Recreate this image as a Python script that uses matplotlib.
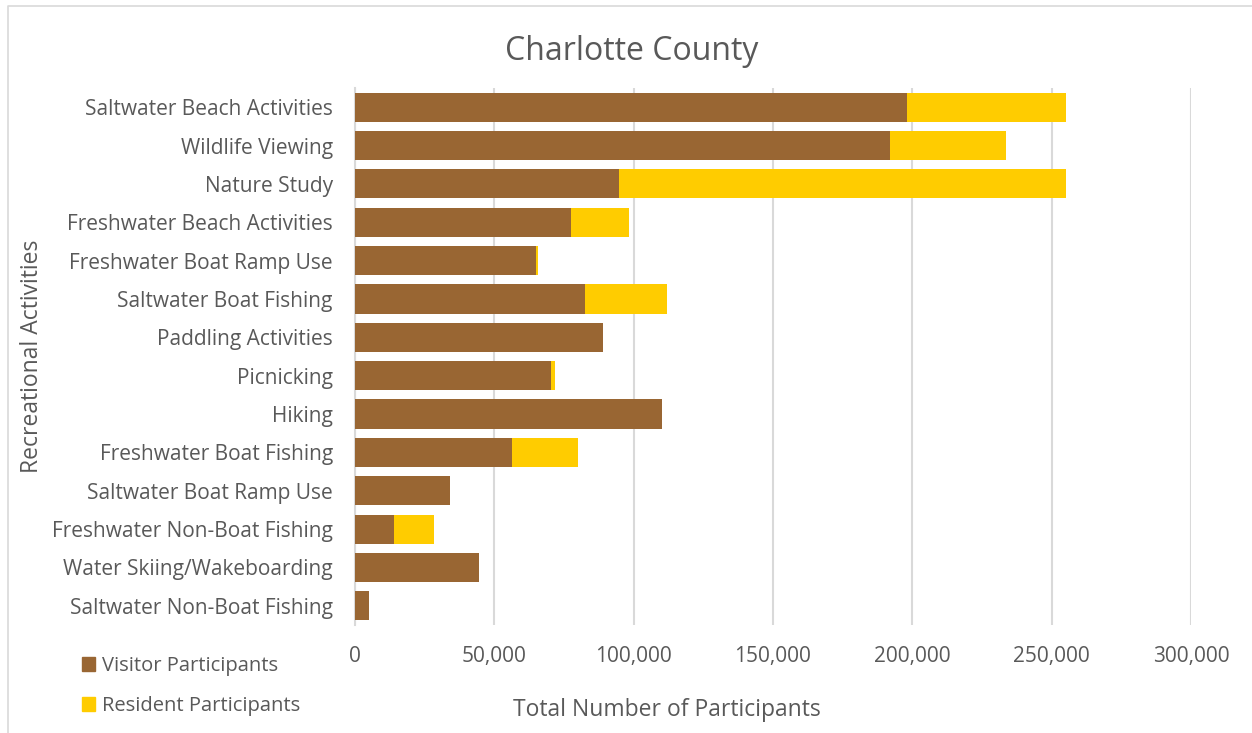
import matplotlib.pyplot as plt
from matplotlib.ticker import FuncFormatter
from matplotlib.patches import Patch
from matplotlib.lines import Line2D

activities = [
    'Saltwater Beach Activities', 'Wildlife Viewing', 'Nature Study',
    'Freshwater Beach Activities', 'Freshwater Boat Ramp Use',
    'Saltwater Boat Fishing', 'Paddling Activities', 'Picnicking', 'Hiking',
    'Freshwater Boat Fishing', 'Saltwater Boat Ramp Use',
    'Freshwater Non-Boat Fishing', 'Water Skiing/Wakeboarding',
    'Saltwater Non-Boat Fishing',
]
visitors = [198100, 192100, 94700, 77500, 64900, 82500, 89100, 70400, 110200,
            56300, 34200, 13900, 44500, 4900]
residents = [57100, 41400, 160400, 20900, 800, 29600, 0, 1200, 0,
             23700, 0, 14300, 0, 0]

brown = '#996633'
gold = '#FFCC00'
text_col = '#595959'

plt.rcParams['font.family'] = ['Open Sans', 'DejaVu Sans']

fig = plt.figure(figsize=(12.52, 7.33), dpi=100)
ax = fig.add_axes([355 / 1252, 1 - 625 / 733, 836 / 1252, 537 / 733])

pos = list(range(len(activities)))
ax.barh(pos, visitors, height=0.76, color=brown, zorder=3)
ax.barh(pos, residents, left=visitors, height=0.76, color=gold, zorder=3)

ax.set_xlim(0, 300000)
ax.set_ylim(len(activities) - 0.5, -0.5)
ax.set_yticks(pos)
ax.set_yticklabels(activities)
ax.set_xticks(range(0, 300001, 50000))
ax.xaxis.set_major_formatter(FuncFormatter(lambda v, p: f'{int(v):,}'))
ax.tick_params(axis='both', length=0, labelsize=15, colors=text_col)
ax.tick_params(axis='x', pad=15)
ax.tick_params(axis='y', pad=16)
ax.grid(axis='x', color='#D9D9D9', linewidth=1.5, zorder=0)
for s in ['top', 'right', 'bottom']:
    ax.spines[s].set_visible(False)
ax.spines['left'].set_color('#D9D9D9')
ax.spines['left'].set_linewidth(1.5)

fig.text(632 / 1252, 1 - 51 / 733, 'Charlotte County', ha='center', va='center',
         fontsize=23, color=text_col)
fig.text(667 / 1252, 1 - 710 / 733, 'Total Number of Participants', ha='center',
         va='center', fontsize=16.5, color=text_col)
fig.text(32 / 1252, 1 - 356 / 733, 'Recreational Activities', ha='center',
         va='center', rotation=90, fontsize=16.5, color=text_col)

handles = [Patch(color=brown, label='Visitor Participants'),
           Patch(color=gold, label='Resident Participants')]
fig.legend(handles=handles, loc='upper left', bbox_to_anchor=(64 / 1252, 1 - 638 / 733),
           frameon=False, fontsize=14.5, labelcolor=text_col, handlelength=0.65,
           handleheight=0.65, handletextpad=0.35, labelspacing=1.0)

# chart area outline (top and left edges only)
fig.lines.append(Line2D([8 / 1252, 8 / 1252, 1.0], [0.0, 1 - 6 / 733, 1 - 6 / 733],
                        transform=fig.transFigure, color='#D9D9D9', linewidth=1.2))

fig.savefig('out.png', dpi=100)
